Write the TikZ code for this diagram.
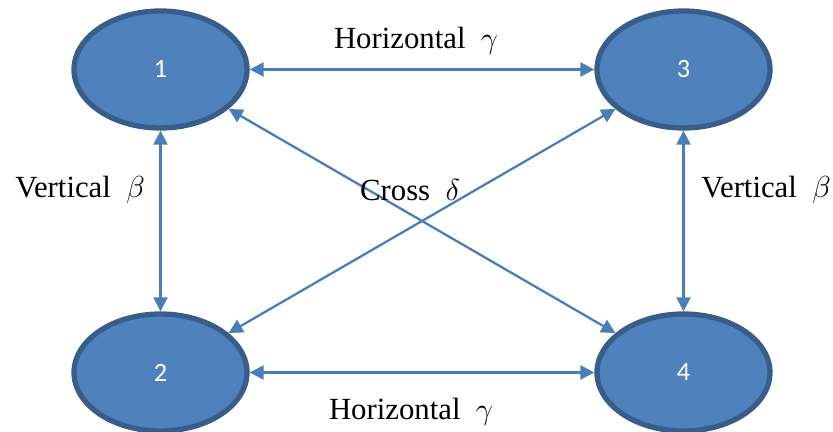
\documentclass[tikz,border=0pt]{standalone}
\usepackage{fontspec}
\setmainfont{Liberation Serif}
\newfontfamily\numfont{Carlito}
\usetikzlibrary{arrows.meta, shapes.geometric}
\definecolor{nodefill}{RGB}{79,129,189}
\definecolor{nodeedge}{RGB}{56,93,138}
\definecolor{linkblue}{RGB}{74,126,187}

\begin{document}
\begin{tikzpicture}[
  font=\fontsize{17.5}{21}\selectfont,
  >={Triangle[length=8pt,width=8pt]},
  state/.style={ellipse, fill=nodefill, draw=nodeedge, line width=3pt,
                minimum width=3.46cm, minimum height=2.34cm, inner sep=0pt,
                text=white, font=\numfont\fontsize{15}{18}\selectfont},
  link/.style={<->, draw=linkblue, line width=1.3pt},
]
\useasboundingbox (0,0) rectangle (16.66,8.64);

%% State positions (left/right column, top/bottom row)
\def\xL{3.21}
\def\xR{13.67}
\def\yT{7.25}
\def\yB{1.19}

%% States
\node[state] (n1) at (\xL,\yT) {1};
\node[state] (n2) at (\xL,\yB) {2};
\node[state] (n3) at (\xR,\yT) {3};
\node[state] (n4) at (\xR,\yB) {4};

%% Links
\draw[link] (n1) -- (n3);
\draw[link] (n2) -- (n4);
\draw[link] (n1) -- (n2);
\draw[link] (n3) -- (n4);
\draw[link] (n1) -- (n4);
\draw[link] (n3) -- (n2);

%% Labels
\node (hTop)   at (8.32,7.82) {Horizontal\ \ $\gamma$};
\node (hBot)   at (8.22,0.4)  {Horizontal\ \ $\gamma$};
\node (vLeft)  at (1.6,4.84)  {Vertical\ \ $\beta$};
\node (vRight) at (15.32,4.84) {Vertical\ \ $\beta$};
\node (cross)  at (8.2,4.84)  {Cross\ \ $\delta$};

\end{tikzpicture}
\end{document}
